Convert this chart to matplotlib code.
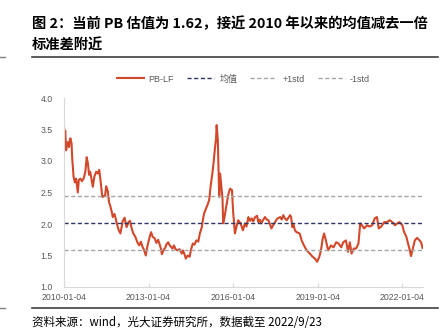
import matplotlib
matplotlib.use('Agg')
import matplotlib.pyplot as plt
import pandas as pd
from matplotlib.lines import Line2D

# 中文字体
plt.rcParams['font.family'] = ['Noto Sans CJK SC', 'DejaVu Sans']
plt.rcParams['axes.unicode_minus'] = False

# PB-LF 序列（日期, 数值）
dates = [
    '2010-01-04', '2010-01-12', '2010-01-20', '2010-02-01', '2010-02-10', '2010-02-20',
    '2010-03-10', '2010-03-20', '2010-03-28', '2010-04-12', '2010-04-20', '2010-05-08',
    '2010-05-25', '2010-06-10', '2010-07-02', '2010-07-15', '2010-08-05', '2010-08-25',
    '2010-09-15', '2010-10-08', '2010-10-25', '2010-11-10', '2010-11-25', '2010-12-10',
    '2010-12-25', '2011-01-12', '2011-02-01', '2011-02-25', '2011-03-20', '2011-04-05',
    '2011-04-20', '2011-05-15', '2011-06-20', '2011-07-05', '2011-07-25', '2011-08-10',
    '2011-08-30', '2011-09-15', '2011-09-28', '2011-10-20', '2011-11-10', '2011-11-25',
    '2011-12-15', '2012-01-05', '2012-02-05', '2012-02-28', '2012-03-25', '2012-04-20',
    '2012-05-08', '2012-05-30', '2012-06-20', '2012-07-15', '2012-08-15', '2012-09-05',
    '2012-09-25', '2012-10-20', '2012-11-10', '2012-11-28', '2012-12-20', '2013-01-15',
    '2013-02-05', '2013-02-25', '2013-03-25', '2013-04-15', '2013-05-08', '2013-06-10',
    '2013-06-25', '2013-07-15', '2013-08-10', '2013-08-25', '2013-09-15', '2013-10-05',
    '2013-11-10', '2013-11-28', '2013-12-20', '2014-01-15', '2014-02-10', '2014-03-10',
    '2014-03-25', '2014-04-20', '2014-05-01', '2014-05-25', '2014-06-20', '2014-07-05',
    '2014-07-30', '2014-08-20', '2014-09-15', '2014-10-10', '2014-10-30', '2014-11-25',
    '2014-12-08', '2014-12-25', '2015-01-20', '2015-02-05', '2015-02-28', '2015-03-18',
    '2015-04-10', '2015-04-25', '2015-05-15', '2015-05-28', '2015-06-05', '2015-06-12',
    '2015-06-20', '2015-06-30', '2015-07-08', '2015-07-20', '2015-08-05', '2015-08-20',
    '2015-08-28', '2015-09-15', '2015-10-10', '2015-11-05', '2015-11-25', '2015-12-20',
    '2016-01-04', '2016-01-28', '2016-02-15', '2016-03-10', '2016-04-10', '2016-05-10',
    '2016-06-05', '2016-06-25', '2016-07-20', '2016-08-10', '2016-09-01', '2016-09-20',
    '2016-10-15', '2016-11-10', '2016-11-25', '2016-12-15', '2017-01-05', '2017-01-25',
    '2017-02-20', '2017-03-15', '2017-04-05', '2017-04-25', '2017-05-15', '2017-06-05',
    '2017-07-01', '2017-07-25', '2017-09-05', '2017-09-25', '2017-10-15', '2017-11-05',
    '2017-11-28', '2017-12-20', '2018-01-12', '2018-01-25', '2018-02-09', '2018-02-25',
    '2018-03-15', '2018-04-05', '2018-05-15', '2018-06-10', '2018-07-10', '2018-08-15',
    '2018-09-25', '2018-10-30', '2018-12-01', '2018-12-28', '2019-01-25', '2019-02-15',
    '2019-03-10', '2019-03-28', '2019-04-20', '2019-05-20', '2019-06-25', '2019-07-28',
    '2019-09-01', '2019-10-01', '2019-11-05', '2019-12-01', '2020-01-05', '2020-02-01',
    '2020-02-25', '2020-03-18', '2020-04-15', '2020-05-15', '2020-06-15', '2020-07-08',
    '2020-07-30', '2020-08-28', '2020-10-05', '2020-11-05', '2020-12-10', '2021-01-12',
    '2021-02-10', '2021-03-05', '2021-04-08', '2021-05-15', '2021-06-20', '2021-07-25',
    '2021-08-28', '2021-10-01', '2021-10-30', '2021-12-01', '2022-01-05', '2022-01-25',
    '2022-02-25', '2022-03-20', '2022-04-12', '2022-04-27', '2022-05-20', '2022-06-15',
    '2022-07-15', '2022-08-15', '2022-09-05', '2022-09-23',
]
pb_lf = [
    3.55, 3.40, 3.48, 3.17, 3.26, 3.30,
    3.22, 3.33, 3.36, 3.28, 3.05, 2.75,
    2.66, 2.72, 2.50, 2.70, 2.72, 2.68,
    2.72, 2.83, 3.06, 2.96, 2.78, 2.83,
    2.72, 2.59, 2.75, 2.83, 2.80, 2.86,
    2.72, 2.43, 2.45, 2.60, 2.52, 2.35,
    2.27, 2.19, 2.11, 2.16, 2.06, 1.98,
    1.90, 1.85, 2.05, 2.10, 1.95, 2.03,
    2.05, 1.93, 1.85, 1.80, 1.70, 1.66,
    1.72, 1.63, 1.58, 1.50, 1.65, 1.78,
    1.87, 1.80, 1.77, 1.70, 1.75, 1.62,
    1.52, 1.58, 1.63, 1.68, 1.71, 1.66,
    1.61, 1.66, 1.60, 1.58, 1.60, 1.53,
    1.58, 1.50, 1.45, 1.50, 1.48, 1.58,
    1.69, 1.67, 1.74, 1.72, 1.85, 1.95,
    2.06, 2.17, 2.25, 2.30, 2.38, 2.59,
    2.80, 2.96, 3.22, 3.35, 3.57, 3.45,
    3.33, 2.80, 2.43, 2.80, 2.59, 2.40,
    2.01, 2.11, 2.30, 2.48, 2.56, 2.54,
    2.20, 1.85, 1.95, 2.06, 2.01, 1.90,
    2.01, 1.96, 2.11, 2.05, 2.09, 2.04,
    2.11, 2.13, 2.03, 2.07, 2.01, 2.06,
    2.11, 2.07, 2.06, 2.00, 1.93, 1.98,
    2.03, 2.08, 2.11, 2.07, 2.14, 2.09,
    2.06, 2.10, 2.14, 2.11, 1.95, 1.99,
    1.90, 1.87, 1.85, 1.74, 1.66, 1.58,
    1.53, 1.48, 1.45, 1.40, 1.48, 1.58,
    1.77, 1.85, 1.74, 1.58, 1.66, 1.63,
    1.71, 1.69, 1.63, 1.71, 1.74, 1.56,
    1.71, 1.53, 1.61, 1.61, 1.69, 2.01,
    1.98, 1.93, 1.98, 1.96, 1.98, 2.09,
    2.11, 1.93, 1.96, 2.03, 2.03, 2.06,
    2.03, 1.98, 2.01, 2.03, 1.98, 1.88,
    1.80, 1.69, 1.58, 1.49, 1.61, 1.74,
    1.78, 1.74, 1.71, 1.62,
]

# 均值及正负一倍标准差
pb_mean = 2.01
pb_plus_std = 2.44
pb_minus_std = 1.58

xtick_labels = ['2010-01-04', '2013-01-04', '2016-01-04', '2019-01-04', '2022-01-04']
yticks = [1.0, 1.5, 2.0, 2.5, 3.0, 3.5, 4.0]

x = pd.to_datetime(dates)
tick_font = ['Liberation Sans', 'Noto Sans CJK SC']
gray_text = '#595959'

fig = plt.figure(figsize=(4.46, 3.36), dpi=100)
ax = fig.add_axes([64 / 446, 1 - 287 / 336, (422.5 - 64) / 446, (287 - 98) / 336])

ax.plot(x, pb_lf, color='#D2482A', linewidth=1.5, label='PB-LF')
ax.axhline(pb_mean, color='#2E3564', linewidth=1.0, linestyle=(0, (3, 1.8)), label='均值')
ax.axhline(pb_plus_std, color='#A6A6A6', linewidth=1.0, linestyle=(0, (3, 1.8)), label='+1std')
ax.axhline(pb_minus_std, color='#A6A6A6', linewidth=1.0, linestyle=(0, (3, 1.8)), label='-1std')

ax.set_xlim(pd.Timestamp('2010-01-04'), pd.Timestamp('2022-09-23'))
ax.set_ylim(1.0, 4.0)
ax.set_yticks(yticks)
ax.set_yticklabels([f'{v:.1f}' for v in yticks], family=tick_font, fontsize=6.3, color=gray_text)
ax.set_xticks(pd.to_datetime(xtick_labels))
ax.set_xticklabels(xtick_labels, family=tick_font, fontsize=6.3, color=gray_text)
ax.tick_params(axis='y', length=0, pad=8)
ax.tick_params(axis='x', direction='in', length=3, color='#D9D9D9', pad=4)

for side in ['top', 'right']:
    ax.spines[side].set_visible(False)
for side in ['left', 'bottom']:
    ax.spines[side].set_color('#D9D9D9')
    ax.spines[side].set_linewidth(0.8)

leg = ax.legend(loc='center', bbox_to_anchor=(0.5, (287 - 79) / (287 - 98)),
                ncol=4, frameon=False, handlelength=3.0, handletextpad=0.55,
                columnspacing=1.45, prop={'family': tick_font, 'size': 6.5})
for t in leg.get_texts():
    t.set_color(gray_text)

# 标题和来源
fig.text(32 / 446, 1 - 24 / 336, '图 2：当前 PB 估值为 1.62，接近 2010 年以来的均值减去一倍',
         fontsize=10.3, fontweight='bold', va='center', ha='left')
fig.text(32 / 446, 1 - 46 / 336, '标准差附近', fontsize=10.3, fontweight='bold', va='center', ha='left')
fig.add_artist(Line2D([32 / 446, 438 / 446], [1 - 57 / 336] * 2, color='#404040', linewidth=1.2))
fig.add_artist(Line2D([0, 5 / 446], [1 - 57 / 336] * 2, color='#808080', linewidth=1.0))
fig.add_artist(Line2D([32 / 446, 438 / 446], [1 - 308 / 336] * 2, color='#404040', linewidth=1.2))
fig.add_artist(Line2D([0, 5 / 446], [1 - 308 / 336] * 2, color='#808080', linewidth=1.0))
fig.text(32 / 446, 1 - 323 / 336, '资料来源：wind，光大证券研究所，数据截至 2022/9/23',
         fontsize=8.3, va='center', ha='left')

fig.savefig('out.png', dpi=100)
